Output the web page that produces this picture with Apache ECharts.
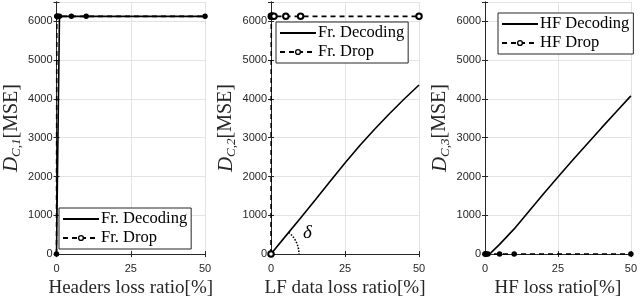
<!DOCTYPE html>
<html><head><meta charset="utf-8">
<script src="https://cdn.jsdelivr.net/npm/echarts@6/dist/echarts.min.js"></script>
<style>html,body{margin:0;padding:0;background:#fff}#c{width:640px;height:303px}</style>
</head><body><div id="c"></div>
<script>
// ---- data ----
const xTicks = [0, 25, 50];
const yTicks = [0, 1000, 2000, 3000, 4000, 5000, 6000];
const xTitles = ['Headers loss ratio[%]', 'LF data loss ratio[%]', 'HF loss ratio[%]'];
const yIndex = ['1', '2', '3'];
const names1 = ['Fr. Decoding', 'Fr. Drop'];
const names3 = ['HF Decoding', 'HF Drop'];

const dec1X = [0, 1, 5, 10, 50];
const dec1Y = [0, 6130, 6130, 6130, 6130];
const drop1X = [0, 0.1, 0.2, 0.5, 1, 5, 10, 50];
const drop1Y = [0, 6130, 6130, 6130, 6130, 6130, 6130, 6130];

const dec2X = [0, 5, 10, 15, 20, 25, 30, 35, 40, 45, 50];
const dec2Y = [0, 470, 930, 1400, 1880, 2350, 2800, 3220, 3620, 4000, 4360];
const drop2X = [0, 0.1, 0.2, 0.5, 1, 5, 10, 50];
const drop2Y = [0, 6130, 6130, 6130, 6130, 6130, 6130, 6130];

const dec3X = [0, 1, 2, 5, 10, 15, 20, 25, 30, 35, 40, 45, 50];
const dec3Y = [0, 5, 30, 250, 650, 1100, 1550, 1990, 2420, 2840, 3260, 3670, 4080];
const drop3X = [0, 0.1, 0.2, 0.5, 1, 5, 10, 50];
const drop3Y = [0, 0, 0, 0, 0, 0, 0, 0];

const zip = (a, b) => a.map((v, i) => [v, b[i]]);

// ---- layout ----
const grids = [
  {left: 55, width: 150, top: 2, bottom: 42},
  {left: 271, width: 148, top: 2, bottom: 42},
  {left: 485, width: 148, top: 2, bottom: 42}
];
const serif = 'Liberation Serif';
const sans = 'Liberation Sans';
const dark = '#262626';

const xAxis = [], yAxis = [];
grids.forEach((g, i) => {
  xAxis.push({
    type: 'value', gridIndex: i, min: 0, max: 50, interval: 25,
    position: 'bottom',
    name: xTitles[i], nameLocation: 'middle', nameGap: 23,
    nameTextStyle: {fontFamily: serif, fontSize: 19, color: dark},
    axisLine: {show: true, lineStyle: {color: dark, width: 1}},
    axisTick: {show: true, inside: true, length: 3, lineStyle: {color: dark}},
    axisLabel: {fontFamily: sans, fontSize: 11, color: dark, margin: 9},
    splitLine: {show: true, lineStyle: {color: '#e3e3e3', width: 1}}
  });
  xAxis.push({
    type: 'value', gridIndex: i, min: 0, max: 50, interval: 25, position: 'top',
    axisLine: {show: true, lineStyle: {color: dark, width: 1}},
    axisTick: {show: true, inside: true, length: 3, lineStyle: {color: dark}},
    axisLabel: {show: false}, splitLine: {show: false}
  });
  yAxis.push({
    type: 'value', gridIndex: i, min: 0, max: 6500, interval: 1000,
    position: 'left',
    name: '{d|D}{s|C,' + yIndex[i] + '}{n|[MSE]}', nameLocation: 'middle', nameGap: 33,
    nameTextStyle: {
      rich: {
        d: {fontFamily: serif, fontStyle: 'italic', fontSize: 21, color: dark, lineHeight: 24, verticalAlign: 'middle'},
        s: {fontFamily: serif, fontStyle: 'italic', fontSize: 13, color: dark, lineHeight: 13, verticalAlign: 'bottom'},
        n: {fontFamily: serif, fontSize: 20, color: dark, lineHeight: 24, verticalAlign: 'middle'}
      }
    },
    axisLine: {show: true, lineStyle: {color: dark, width: 1}},
    axisTick: {show: true, inside: true, length: 3, lineStyle: {color: dark}},
    axisLabel: {fontFamily: sans, fontSize: 11, color: dark, margin: 4,
      formatter: v => yTicks.indexOf(v) >= 0 ? String(v) : ''},
    splitLine: {show: true, lineStyle: {color: '#e3e3e3', width: 1}}
  });
  yAxis.push({
    type: 'value', gridIndex: i, min: 0, max: 6500, interval: 1000, position: 'right',
    axisLine: {show: true, lineStyle: {color: dark, width: 1}},
    axisTick: {show: true, inside: true, length: 3, lineStyle: {color: dark}},
    axisLabel: {show: false}, splitLine: {show: false}
  });
});

function decSeries(name, gi, xs, ys) {
  return {
    type: 'line', name: name, xAxisIndex: gi * 2, yAxisIndex: gi * 2,
    data: zip(xs, ys), symbol: 'none', smooth: false,
    lineStyle: {color: '#000', width: 1.6, type: 'solid'},
    itemStyle: {color: '#000'}, z: 3, animation: false
  };
}
function dropSeries(name, gi, xs, ys, sym, bw) {
  return {
    type: 'line', name: name, xAxisIndex: gi * 2, yAxisIndex: gi * 2,
    data: zip(xs, ys), symbol: sym, symbolSize: 5.5, showAllSymbol: true,
    lineStyle: {color: '#000', width: 1.6, type: [5, 4]},
    itemStyle: {color: '#000', borderColor: '#000', borderWidth: bw},
    z: 4, animation: false
  };
}

const series = [
  decSeries(names1[0], 0, dec1X, dec1Y),
  dropSeries(names1[1], 0, drop1X, drop1Y, 'circle', 0),
  decSeries(names1[0], 1, dec2X, dec2Y),
  dropSeries(names1[1], 1, drop2X, drop2Y, 'emptyCircle', 1.3),
  decSeries(names3[0], 2, dec3X, dec3Y),
  dropSeries(names3[1], 2, drop3X, drop3Y, 'circle', 0)
];

function legend(left, top, names) {
  return {
    left: left, top: top, orient: 'vertical',
    data: [
      {name: names[0], itemStyle: {opacity: 0}},
      {name: names[1], itemStyle: {color: '#fff', borderColor: '#000', borderWidth: 1.4}}
    ],
    backgroundColor: '#fff', borderColor: dark, borderWidth: 1,
    padding: [2, 4, 2, 3], itemWidth: 36, itemHeight: 6, itemGap: 1,
    selectedMode: false,
    textStyle: {fontFamily: serif, fontSize: 16.5, color: '#000', padding: [0, 0, 0, -3], lineHeight: 18}
  };
}

const chart = echarts.init(document.getElementById('c'), null, {renderer: 'canvas'});
chart.setOption({
  animation: false,
  grid: grids.map(g => Object.assign({show: false, containLabel: false}, g)),
  xAxis: xAxis, yAxis: yAxis, series: series,
  legend: [legend(59, 208, names1), legend(276, 22, names1), legend(498, 13, names3)]
});

// delta angle annotation in panel 2
const o = chart.convertToPixel({xAxisIndex: 2, yAxisIndex: 2}, [0, 0]);
const e = chart.convertToPixel({xAxisIndex: 2, yAxisIndex: 2}, [dec2X[2], dec2Y[2]]);
const ang = Math.atan2(e[1] - o[1], e[0] - o[0]);
const r = 28;
chart.setOption({
  graphic: [
    {type: 'arc', shape: {cx: o[0], cy: o[1], r: r, startAngle: ang, endAngle: 0},
      style: {stroke: '#000', fill: null, lineWidth: 1.5, lineDash: [1.5, 1.5]}, z: 10},
    {type: 'text', x: o[0] + 32, y: o[1] - 21,
      style: {text: 'δ', fontFamily: serif, fontStyle: 'italic', fontSize: 19, fill: '#000', verticalAlign: 'middle'}, z: 10}
  ]
});
</script></body></html>
